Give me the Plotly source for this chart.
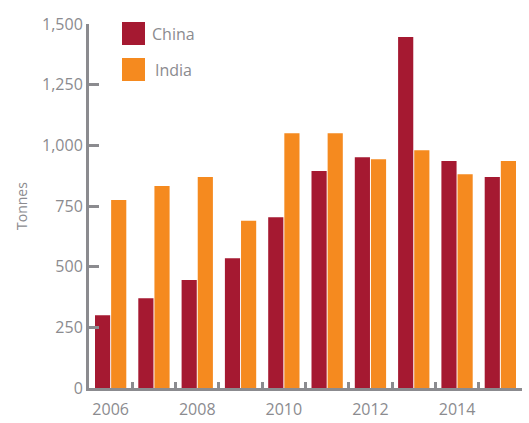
import plotly.graph_objects as go

years = [2006, 2007, 2008, 2009, 2010, 2011, 2012, 2013, 2014, 2015]
china = [300, 370, 445, 535, 704, 894, 951, 1446, 935, 869]
india = [775, 832, 869, 689, 1050, 1050, 943, 980, 881, 935]
y_ticks = [0, 250, 500, 750, 1000, 1250, 1500]
x_ticks = [2006, 2008, 2010, 2012, 2014]

series = [("China", china, "#A51931"), ("India", india, "#F58A1F")]

GREY = "#8B8B8F"
FONT = "Open Sans"

fig = go.Figure()
for name, vals, col in series:
    fig.add_trace(go.Bar(x=years, y=vals, name=name, marker_color=col,
                         marker_line_width=0, showlegend=False))

W, H = 529, 423
ML, MR, MT, MB = 89, 7, 24, 35
pw, ph = W - ML - MR, H - MT - MB

# legend drawn as square swatches with centred labels
for i, (name, vals, col) in enumerate(series):
    top = 22 + i * 36
    fig.add_shape(type="rect", xref="paper", yref="paper",
                  x0=(122 - ML) / pw, x1=(145 - ML) / pw,
                  y0=(MT + ph - (top + 23)) / ph, y1=(MT + ph - top) / ph,
                  fillcolor=col, line_width=0)
    fig.add_annotation(xref="paper", yref="paper",
                       x=(173.5 - ML) / pw, y=(MT + ph - (top + 11.5)) / ph,
                       text=name, showarrow=False, xanchor="center", yanchor="middle",
                       font=dict(family=FONT, size=16, color=GREY))

fig.update_layout(
    width=W, height=H,
    margin=dict(l=ML, r=MR, t=MT, b=MB, pad=0),
    paper_bgcolor="white", plot_bgcolor="white",
    barmode="group", bargap=0.255, bargroupgap=0.06,
    font=dict(family=FONT, color=GREY, size=16),
)
fig.update_xaxes(
    range=[2005.5, 2015.5], tickvals=x_ticks, ticktext=[str(v) for v in x_ticks],
    ticks="inside", ticklen=0, showgrid=False, zeroline=False,
    showline=True, linecolor=GREY, linewidth=3,
    ticklabelstandoff=5, automargin=False,
    tickfont=dict(family=FONT, size=16, color=GREY),
    minor=dict(tick0=2005.5, dtick=1, ticks="inside", ticklen=6, tickwidth=3,
               tickcolor=GREY, showgrid=False),
)
fig.update_yaxes(
    range=[0, 1500], tickvals=y_ticks, tickformat=",d",
    ticks="inside", ticklen=10, tickwidth=3, tickcolor=GREY,
    showgrid=False, zeroline=False, automargin=False,
    showline=True, linecolor=GREY, linewidth=3,
    tickfont=dict(family=FONT, size=16, color=GREY),
    title=dict(text="Tonnes", font=dict(family=FONT, size=14, color=GREY), standoff=12),
)

fig.write_html("out.html")
